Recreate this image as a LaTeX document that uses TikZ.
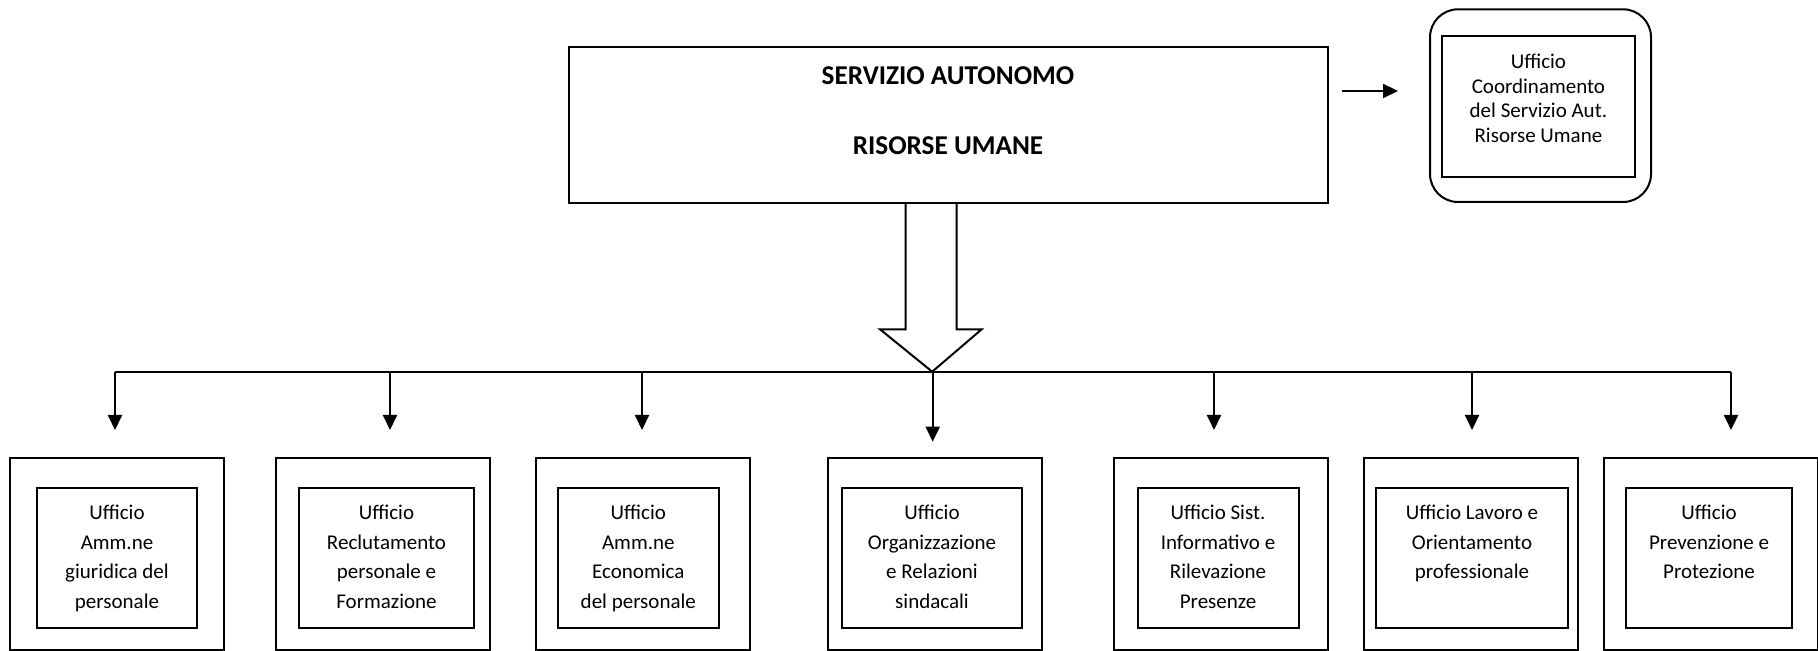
\documentclass[tikz,border=0pt]{standalone}
\usepackage{fontspec}
\setmainfont{Carlito}
\usetikzlibrary{arrows.meta}
\newcommand{\mlines}[1]{\begin{tabular}[t]{@{}c@{}}#1\end{tabular}}
\begin{document}
\begin{tikzpicture}[x=0.5pt,y=-0.5pt,
  box/.style={draw,line width=1pt,inner sep=0pt},
  obox/.style={box,minimum width=107pt,minimum height=96pt},
  ibox/.style={box,minimum height=70pt},
  lbl/.style={inner sep=0pt,anchor=base,font=\fontsize{10.5}{14.85}\selectfont},
  clbl/.style={inner sep=0pt,anchor=base,font=\fontsize{10.5}{12.25}\selectfont},
  ttl/.style={inner sep=0pt,anchor=base,font=\fontsize{13.6}{16}\selectfont\bfseries},
  conn/.style={line width=1pt},
  tip/.style={-{Triangle[width=7pt,length=7.5pt]}}]
\useasboundingbox (0,0) rectangle (1818,651);

% main box
\node[box,minimum width=379.5pt,minimum height=78.3pt] (main) at (948,125) {};
\node[ttl] (t1) at (948,85) {SERVIZIO AUTONOMO};
\node[ttl] (t2) at (948,154.3) {RISORSE UMANE};

% coordination box
\node[box,rounded corners=14pt,minimum width=110.5pt,minimum height=96.35pt] (co) at (1540.5,105.65) {};
\node[box,minimum width=96.65pt,minimum height=70.5pt] (ci) at (1538.35,106.2) {};
\node[clbl] (ct) at (1538.4,69) {\mlines{Ufficio\\Coordinamento\\del Servizio Aut.\\Risorse Umane}};
\coordinate (a1) at (1341.7,91);
\coordinate (a2) at (1398,91);
\draw[conn,tip] (a1) -- (a2);

% hollow arrow
\coordinate (hb) at (932.2,371.7);
\draw[conn,line join=miter] (905.7,203.3) -- (905.7,329.3) -- (880,329.3) -- (hb)
  -- (981.7,329.3) -- (956.7,329.3) -- (956.7,203.3);

% bus
\coordinate (d1) at (115,372);
\coordinate (d2) at (390,372);
\coordinate (d3) at (642,372);
\coordinate (d4) at (932.7,372);
\coordinate (d5) at (1214,372);
\coordinate (d6) at (1472,372);
\coordinate (d7) at (1731,372);
\coordinate (e1) at (115,430);
\coordinate (e2) at (390,430);
\coordinate (e3) at (642,430);
\coordinate (e4) at (932.7,441.7);
\coordinate (e5) at (1214,430);
\coordinate (e6) at (1472,430);
\coordinate (e7) at (1731,430);
\draw[conn] (d1) -- (d7);
\foreach \i in {1,...,7}{\draw[conn,tip] (d\i) -- (e\i);}

% bottom boxes
\node[obox] (o1) at (116.8,554) {};
\node[ibox,minimum width=79.7pt] (i1) at (117,558) {};
\node[lbl] (l1) at (117,519.3) {\mlines{Ufficio\\Amm.ne\\giuridica del\\personale}};

\node[obox] (o2) at (383,554) {};
\node[ibox,minimum width=87.5pt] (i2) at (386.5,558) {};
\node[lbl] (l2) at (386.5,519.3) {\mlines{Ufficio\\Reclutamento\\personale e\\Formazione}};

\node[obox] (o3) at (642.8,554) {};
\node[ibox,minimum width=80.65pt] (i3) at (638.3,558) {};
\node[lbl] (l3) at (638.3,519.3) {\mlines{Ufficio\\Amm.ne\\Economica\\del personale}};

\node[obox] (o4) at (934.5,554) {};
\node[ibox,minimum width=90pt] (i4) at (932,558) {};
\node[lbl] (l4) at (932,519.3) {\mlines{Ufficio\\Organizzazione\\e Relazioni\\sindacali}};

\node[obox] (o5) at (1220.7,554) {};
\node[ibox,minimum width=80.5pt] (i5) at (1218,558) {};
\node[lbl] (l5) at (1218,519.3) {\mlines{Ufficio Sist.\\Informativo e\\Rilevazione\\Presenze}};

\node[obox] (o6) at (1470.5,554) {};
\node[ibox,minimum width=96pt] (i6) at (1472,558) {};
\node[lbl] (l6) at (1472,519.3) {\mlines{Ufficio Lavoro e\\Orientamento\\professionale}};

\node[obox] (o7) at (1710.5,554) {};
\node[ibox,minimum width=83pt] (i7) at (1709,558) {};
\node[lbl] (l7) at (1709,519.3) {\mlines{Ufficio\\Prevenzione e\\Protezione}};
\end{tikzpicture}
\end{document}
